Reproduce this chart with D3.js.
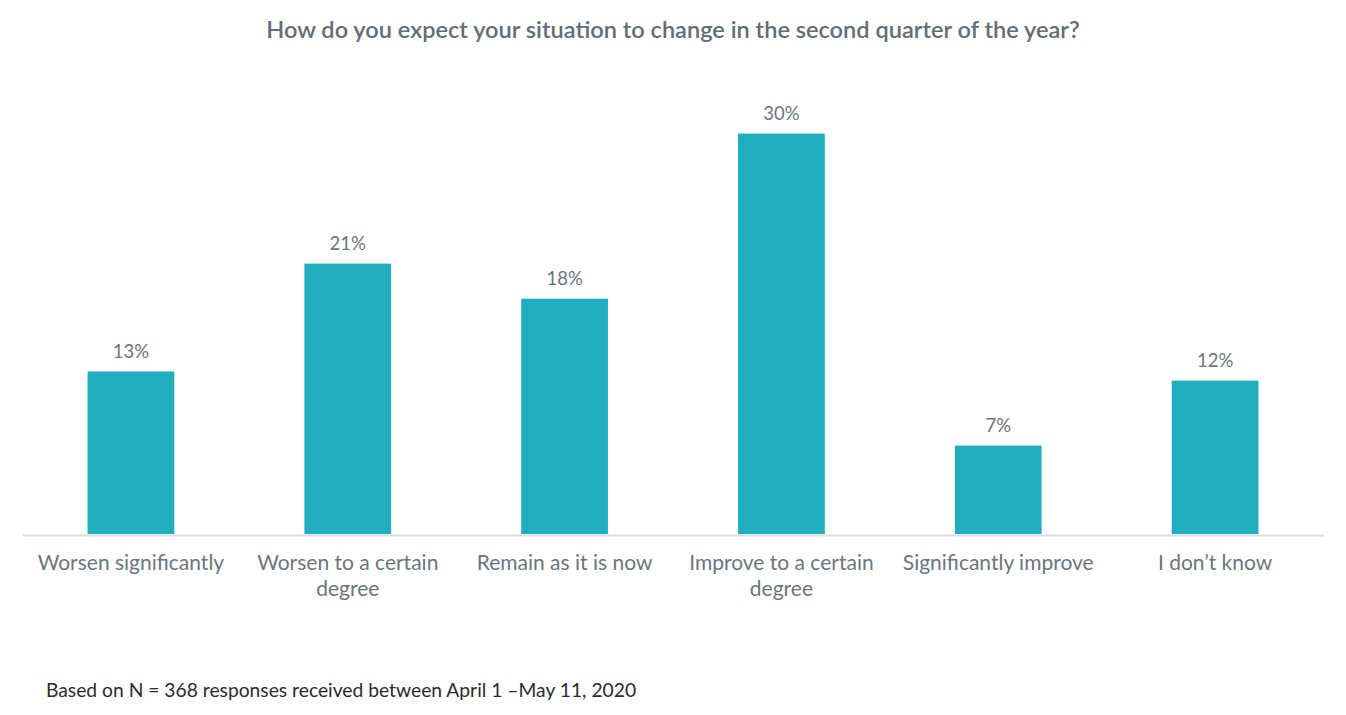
<!DOCTYPE html>
<html>
<head>
<meta charset="utf-8">
<script src="https://cdn.jsdelivr.net/npm/d3@7"></script>
<style>
  html, body { margin: 0; padding: 0; background: #fff; }
  svg { display: block; }
</style>
</head>
<body>
<svg id="chart" width="1346" height="715"></svg>
<script>
const categories = [
  "Worsen significantly",
  "Worsen to a certain degree",
  "Remain as it is now",
  "Improve to a certain degree",
  "Significantly improve",
  "I don\u2019t know"
];
const values = [12.5, 20.8, 18.1, 30.8, 6.8, 11.8];
const valueLabels = ["13%", "21%", "18%", "30%", "7%", "12%"];
const categoryLines = [
  ["Worsen significantly"],
  ["Worsen to a certain", "degree"],
  ["Remain as it is now"],
  ["Improve to a certain", "degree"],
  ["Significantly improve"],
  ["I don\u2019t know"]
];
const title = "How do you expect your situation to change in the second quarter of the year?";
const footnote = "Based on N = 368 responses received between April 1 \u2013May 11, 2020";

const svg = d3.select("#chart");
const W = 1346;
const baseY = 534;

const x = d3.scaleBand()
  .domain(categories)
  .range([22.5, 1323.5])
  .paddingInner(0.6)
  .paddingOuter(0.3);

const y = d3.scaleLinear()
  .domain([0, 35])
  .range([baseY, baseY - 35 * 13]);

const font = "Lato, 'Open Sans', sans-serif";

function fitWidth(sel, target) {
  const n = sel.node();
  const w = n.getComputedTextLength();
  const fs = parseFloat(sel.attr("font-size"));
  sel.attr("font-size", (fs * target / w).toFixed(2));
}

// title
const t = svg.append("text")
  .attr("x", W / 2).attr("y", 38)
  .attr("text-anchor", "middle")
  .attr("font-family", font)
  .attr("font-size", 20)
  .attr("font-weight", 600)
  .attr("fill", "#616d79")
  .text(title);
fitWidth(t, 814);

// bars
svg.append("g").selectAll("rect")
  .data(categories)
  .join("rect")
  .attr("x", d => x(d))
  .attr("width", x.bandwidth())
  .attr("y", (d, i) => y(values[i]))
  .attr("height", (d, i) => y(0) - y(values[i]))
  .attr("fill", "#20adbd");

// value labels
svg.append("g").selectAll("text")
  .data(categories)
  .join("text")
  .attr("x", d => x(d) + x.bandwidth() / 2)
  .attr("y", (d, i) => y(values[i]) - 14)
  .attr("text-anchor", "middle")
  .attr("font-family", font)
  .attr("font-size", 18.5)
  .attr("fill", "#6b7580")
  .text((d, i) => valueLabels[i]);

// axis baseline
const axis = d3.axisBottom(x).tickSize(0).tickFormat(() => "");
const ax = svg.append("g").attr("transform", `translate(0,${baseY + 1})`).call(axis);
ax.select(".domain").attr("stroke", "#d9dee3").attr("stroke-width", 2);

// category labels
const cl = svg.append("g");
categories.forEach((c, i) => {
  const txt = cl.append("text")
    .attr("x", x(c) + x.bandwidth() / 2)
    .attr("y", 570)
    .attr("text-anchor", "middle")
    .attr("font-family", font)
    .attr("font-size", 21)
    .attr("fill", "#6b7580");
  categoryLines[i].forEach((ln, j) => {
    txt.append("tspan")
      .attr("x", x(c) + x.bandwidth() / 2)
      .attr("dy", j === 0 ? 0 : 26)
      .text(ln);
  });
});

// footnote
const f = svg.append("text")
  .attr("x", 46).attr("y", 697)
  .attr("font-family", font)
  .attr("font-size", 19)
  .attr("fill", "#2b2b2b")
  .text(footnote);
fitWidth(f, 590);
</script>
</body>
</html>
